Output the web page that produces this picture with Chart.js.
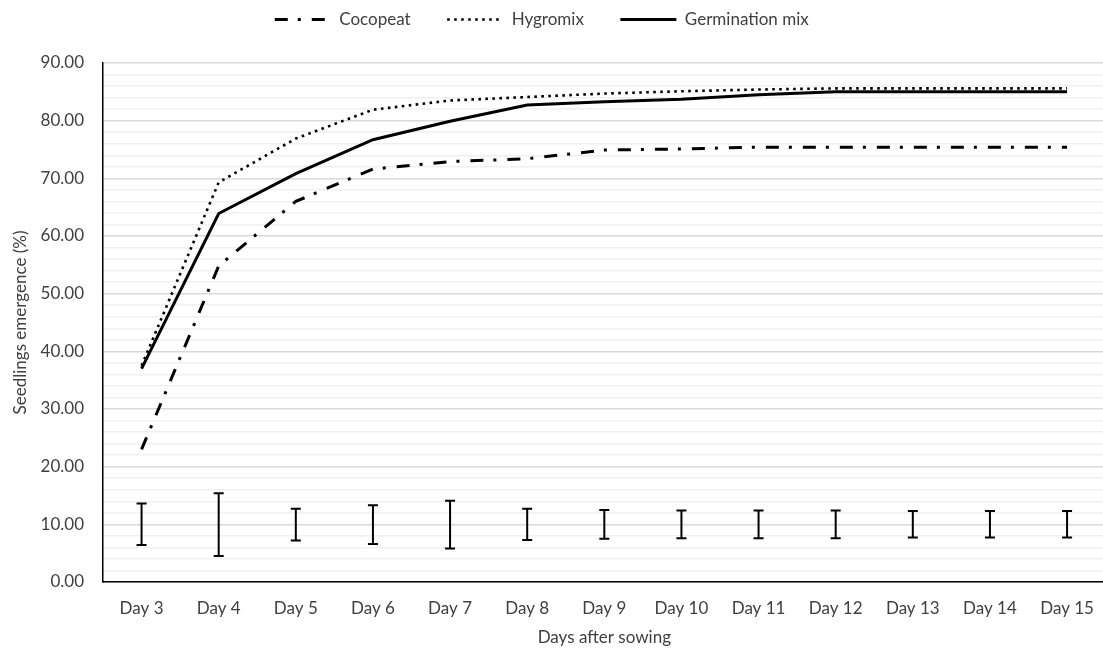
<!DOCTYPE html>
<html>
<head>
<meta charset="utf-8">
<script src="https://cdn.jsdelivr.net/npm/chart.js@4/dist/chart.umd.min.js"></script>
<style>
  html, body { margin: 0; padding: 0; background: #fff; }
  #wrap { width: 1103px; height: 654px; overflow: hidden; }
  #box { width: 1110px; height: 654px; }
</style>
</head>
<body>
<div id="wrap"><div id="box"><canvas id="lineChart"></canvas></div></div>
<script>
const days = ['Day 3', 'Day 4', 'Day 5', 'Day 6', 'Day 7', 'Day 8', 'Day 9',
  'Day 10', 'Day 11', 'Day 12', 'Day 13', 'Day 14', 'Day 15'];
const cocopeat = [23.0, 54.8, 66.0, 71.6, 72.9, 73.4, 74.9, 75.1, 75.4, 75.4, 75.4, 75.4, 75.4];
const hygromix = [37.5, 69.3, 76.9, 81.9, 83.5, 84.1, 84.7, 85.1, 85.4, 85.6, 85.6, 85.6, 85.6];
const germMix = [37.0, 63.9, 70.8, 76.7, 79.9, 82.7, 83.3, 83.7, 84.5, 85.0, 85.0, 85.0, 85.0];
// error bar ends (LSD bars near the bottom)
const errHigh = [13.6, 15.4, 12.7, 13.3, 14.1, 12.7, 12.5, 12.4, 12.4, 12.4, 12.3, 12.3, 12.3];
const errLow = [6.4, 4.5, 7.2, 6.6, 5.8, 7.3, 7.5, 7.6, 7.6, 7.6, 7.7, 7.7, 7.7];

const FONT = 'Lato, "Liberation Sans", sans-serif';
const TEXT = '#404040';

const errorBars = {
  id: 'errorBars',
  afterDatasetsDraw(chart) {
    const {ctx, scales: {x, y}} = chart;
    ctx.save();
    ctx.strokeStyle = '#000';
    ctx.lineWidth = 2;
    errHigh.forEach((hi, i) => {
      const px = x.getPixelForValue(i);
      const top = y.getPixelForValue(hi);
      const bot = y.getPixelForValue(errLow[i]);
      ctx.beginPath();
      ctx.moveTo(px, top); ctx.lineTo(px, bot);
      ctx.moveTo(px - 5, top); ctx.lineTo(px + 5, top);
      ctx.moveTo(px - 5, bot); ctx.lineTo(px + 5, bot);
      ctx.stroke();
    });
    ctx.restore();
  }
};

// make the legend block tall enough so the plot starts at y=63
const legendSpace = {
  id: 'legendSpace',
  beforeLayout(chart) {
    const lg = chart.legend;
    if (lg && !lg._patched) {
      const fit = lg.fit;
      lg.fit = function () { fit.call(this); this.height = 63; };
      lg._patched = true;
    }
  }
};

const ctx = document.getElementById('lineChart');

new Chart(ctx, {
  type: 'line',
  data: {
    labels: days,
    datasets: [
      {
        label: 'Cocopeat',
        data: cocopeat,
        borderColor: '#000',
        borderWidth: 3,
        borderDash: [13, 10, 3, 11],
        pointRadius: 0,
        tension: 0
      },
      {
        label: 'Hygromix',
        data: hygromix,
        borderColor: '#000',
        borderWidth: 2.6,
        borderDash: [2.6, 4.4],
        pointRadius: 0,
        tension: 0
      },
      {
        label: 'Germination mix',
        data: germMix,
        borderColor: '#000',
        borderWidth: 3,
        pointRadius: 0,
        tension: 0
      }
    ]
  },
  options: {
    responsive: true,
    maintainAspectRatio: false,
    animation: false,
    layout: { padding: { top: 0, left: 0, right: 1, bottom: 0 } },
    scales: {
      x: {
        offset: true,
        grid: { display: false, drawTicks: false },
        border: { display: true, color: '#000', width: 1.5 },
        ticks: { color: TEXT, font: { family: FONT, size: 17 }, padding: 16, maxRotation: 0 },
        title: {
          display: true,
          text: 'Days after sowing',
          color: TEXT,
          font: { family: FONT, size: 17 },
          padding: { top: 0, bottom: 6 }
        },
        afterFit: (scale) => { scale.height = 72; }
      },
      y: {
        min: 0,
        max: 90,
        grid: {
          drawTicks: false,
          color: (c) => (c.tick && c.tick.value % 10 === 0) ? '#d9d9d9' : '#f0f0f0',
          lineWidth: 1.5
        },
        border: { display: true, color: '#000', width: 1.5 },
        ticks: {
          stepSize: 2,
          autoSkip: false,
          padding: 19,
          color: TEXT,
          font: { family: FONT, size: 17 },
          callback: (v) => v % 10 === 0 ? v.toFixed(2) : ''
        },
        title: {
          display: true,
          text: 'Seedlings emergence (%)',
          color: TEXT,
          font: { family: FONT, size: 17 },
          padding: { top: 10, bottom: 0 }
        },
        afterFit: (scale) => { scale.width = 103; }
      }
    },
    plugins: {
      legend: {
        position: 'top',
        labels: {
          usePointStyle: true,
          pointStyle: 'line',
          pointStyleWidth: 56,
          padding: 11,
          color: TEXT,
          font: { family: FONT, size: 17 },
          generateLabels: (chart) => chart.data.datasets.map((ds, i) => ({
            text: ds.label + '\u2002\u2002\u2002',
            fillStyle: '#000',
            strokeStyle: '#000',
            fontColor: TEXT,
            lineWidth: ds.borderWidth,
            lineDash: ds.borderDash || [],
            lineCap: 'butt',
            pointStyle: 'line',
            hidden: false,
            datasetIndex: i
          }))
        }
      },
      tooltip: { enabled: false }
    }
  },
  plugins: [errorBars, legendSpace]
});
</script>
</body>
</html>
